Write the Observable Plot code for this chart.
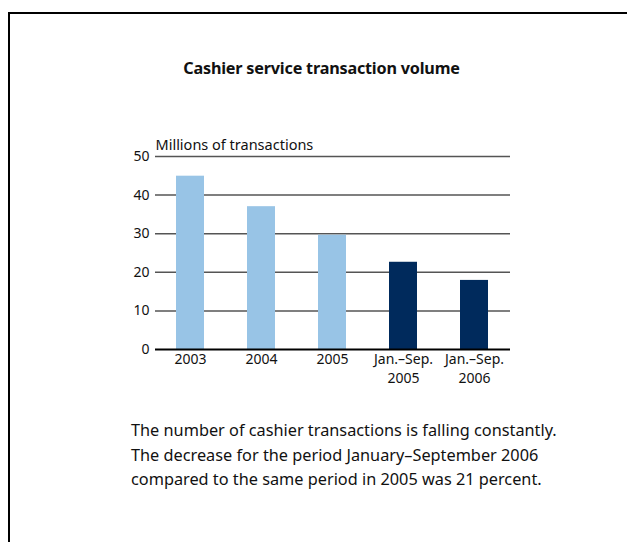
<!DOCTYPE html>
<html>
<head>
<meta charset="utf-8">
<script src="https://cdn.jsdelivr.net/npm/d3@7"></script>
<script src="https://cdn.jsdelivr.net/npm/@observablehq/plot@0.6"></script>
<style>
  html, body { margin: 0; padding: 0; background: #fff; width: 627px; height: 542px; overflow: hidden; }
  body { font-family: "Noto Sans", "Open Sans", sans-serif; color: #111; position: relative; }
  #frame { position: absolute; left: 8px; top: 12px; width: 640px; height: 560px;
           border-left: 2px solid #000; border-top: 2px solid #000; box-sizing: border-box; }
  #title { position: absolute; left: 0; width: 643px; top: 57px; text-align: center;
           font-weight: bold; font-size: 16.2px; letter-spacing: -0.2px; }
  #chart { position: absolute; left: 100px; top: 130px; }
  #caption { position: absolute; left: 131px; top: 418px; font-size: 16.3px; line-height: 24.5px;
             color: #111; }
</style>
</head>
<body>
<div id="frame"></div>
<div id="title">Cashier service transaction volume</div>
<div id="chart"></div>
<div id="caption">The number of cashier transactions is falling constantly.<br>The decrease for the period January–September 2006<br>compared to the same period in 2005 was 21 percent.</div>
<script>
const periods = ["2003", "2004", "2005", "Jan.–Sep.\n2005", "Jan.–Sep.\n2006"];
const values = [44.9, 37.0, 29.6, 22.6, 17.9];
const kinds = ["Full year", "Full year", "Full year", "Jan.–Sep.", "Jan.–Sep."];
const yTicks = [0, 10, 20, 30, 40, 50];
const gridTicks = [10, 20, 30, 40, 50];
const yLabel = "Millions of transactions";

const data = periods.map((p, i) => ({period: p, value: values[i], kind: kinds[i]}));

const plot = Plot.plot({
  width: 430,
  height: 270,
  marginLeft: 55,
  marginRight: 20,
  marginTop: 26,
  marginBottom: 51,
  style: {fontFamily: "'Noto Sans', 'Open Sans', sans-serif", fontSize: "14px", color: "#111", background: "transparent"},
  x: {domain: periods, paddingInner: 0.6, paddingOuter: 0.3, label: null},
  y: {domain: [0, 50], label: null},
  color: {domain: ["Full year", "Jan.–Sep."], range: ["#98c4e6", "#002a5c"]},
  marks: [
    Plot.ruleY(gridTicks, {stroke: "#555", strokeWidth: 1.5}),
    Plot.barY(data, {x: "period", y: "value", fill: "kind"}),
    Plot.ruleY([0], {stroke: "#000", strokeWidth: 2}),
    Plot.axisX({tickSize: 0, tickPadding: 2, lineHeight: 1.3, fontSize: 14}),
    Plot.axisY(yTicks, {tickSize: 0, tickPadding: 6, fontSize: 14}),
    Plot.text([yLabel], {frameAnchor: "top-left", dy: -17, dx: 0, fontSize: 14.5, textAnchor: "start", lineAnchor: "top"})
  ]
});
document.getElementById("chart").appendChild(plot);
</script>
</body>
</html>
